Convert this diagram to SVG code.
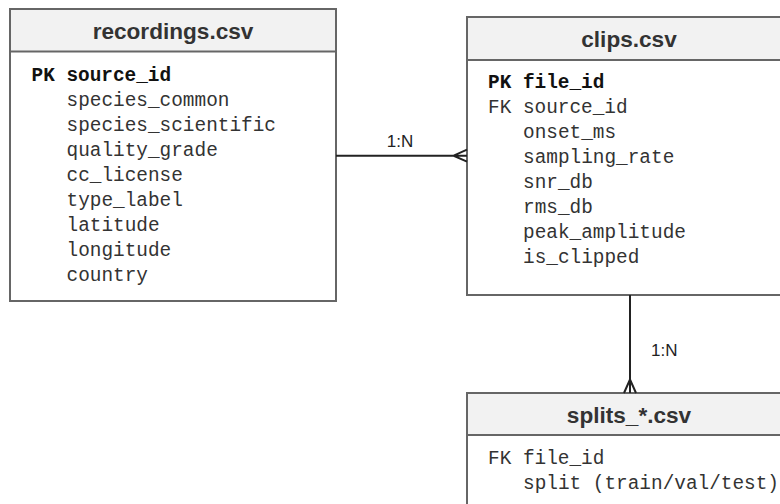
<svg xmlns="http://www.w3.org/2000/svg" width="780" height="504" viewBox="0 0 780 504">
<style>
.box{fill:#fff;stroke:#666;stroke-width:2}
.hdr{fill:#f2f2f2;stroke:#666;stroke-width:2}
.title{font-family:"Liberation Sans",Arial,sans-serif;font-weight:bold;font-size:22.6px;fill:#333;text-anchor:middle}
.f{font-family:"Liberation Mono","Courier New",monospace;font-size:19.4px;fill:#333}
.pk{font-weight:bold;fill:#111}
.lbl{font-family:"Liberation Sans",Arial,sans-serif;font-size:17px;fill:#222}
.conn{stroke:#222;stroke-width:2;fill:none}
</style>
<rect width="780" height="504" fill="#fff"/>
<g id="recordings">
<rect class="box" x="10" y="9" width="326" height="292"/>
<rect class="hdr" x="10" y="9" width="326" height="42.5"/>
<text class="title" x="173" y="38.5">recordings.csv</text>
<text class="f pk" x="31.5" y="80.5">PK source_id</text>
<text class="f" x="66.5" y="105.5">species_common</text>
<text class="f" x="66.5" y="130.5">species_scientific</text>
<text class="f" x="66.5" y="155.5">quality_grade</text>
<text class="f" x="66.5" y="180.5">cc_license</text>
<text class="f" x="66.5" y="205.5">type_label</text>
<text class="f" x="66.5" y="230.5">latitude</text>
<text class="f" x="66.5" y="255.5">longitude</text>
<text class="f" x="66.5" y="280.5">country</text>
</g>
<g id="clips">
<rect class="box" x="467" y="17" width="326" height="278"/>
<rect class="hdr" x="467" y="17" width="326" height="43"/>
<text class="title" x="629" y="46.5">clips.csv</text>
<text class="f pk" x="488" y="87.5">PK file_id</text>
<text class="f" x="488" y="112.5">FK source_id</text>
<text class="f" x="523" y="137.5">onset_ms</text>
<text class="f" x="523" y="162.5">sampling_rate</text>
<text class="f" x="523" y="187.5">snr_db</text>
<text class="f" x="523" y="212.5">rms_db</text>
<text class="f" x="523" y="237.5">peak_amplitude</text>
<text class="f" x="523" y="262.5">is_clipped</text>
</g>
<g id="splits">
<rect class="box" x="467" y="393" width="326" height="130"/>
<rect class="hdr" x="467" y="393" width="326" height="42"/>
<text class="title" x="629" y="422.5">splits_*.csv</text>
<text class="f" x="488" y="463.5">FK file_id</text>
<text class="f" x="523" y="488.5">split (train/val/test)</text>
</g>
<g id="connectors">
<path class="conn" d="M336 155.7H467M467 149.7L453.5 155.7L467 161.7"/>
<text class="lbl" x="400" y="146.5" text-anchor="middle">1:N</text>
<path class="conn" d="M630 295V393M624 393L630 379.5L636 393"/>
<text class="lbl" x="651" y="356">1:N</text>
</g>
</svg>
